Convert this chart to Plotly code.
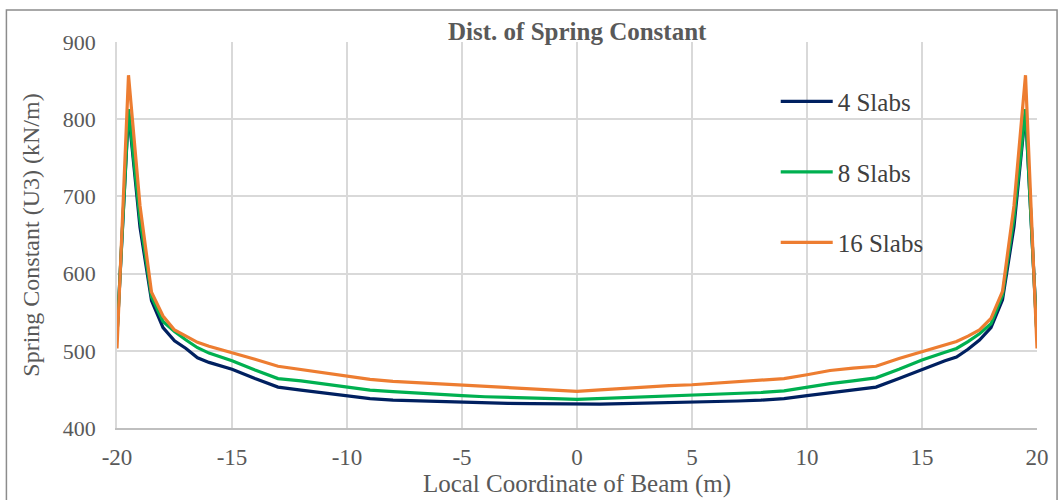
import plotly.graph_objects as go

x_coord = [-20, -19.5, -19, -18.5, -18, -17.5, -17, -16.5, -16,
           -15, -14, -13, -12, -11, -10, -9, -8, -7, -6, -5, -4, -3, -2, -1,
           0, 1, 2, 3, 4, 5, 6, 7, 8, 9, 10, 11, 12, 13, 14, 15,
           16, 16.5, 17, 17.5, 18, 18.5, 19, 19.5, 20]

slabs_4 = [520, 810, 660, 565, 530, 513, 503, 491, 485,
           476, 464, 453, 449, 445, 442, 438, 436, 435, 434, 433.5, 433, 432, 431.5, 431,
           431, 431, 431.5, 432, 433, 433.5, 434, 435, 436, 438, 442, 446, 450, 453, 464, 476,
           487, 492, 502, 514, 530, 566, 661, 810, 520]

slabs_8 = [520, 813, 670, 570, 538, 525, 514, 504, 497,
           487, 475, 464, 461, 457, 454, 449, 447, 445, 443.5, 442, 440.5, 440, 438.5, 438,
           437, 438, 439, 440.5, 441, 442, 444, 445, 446, 448, 453, 457.5, 461, 465, 476, 488,
           498, 503, 512, 522, 535, 572, 672, 813, 518]

slabs_16 = [503, 857, 688, 576, 545, 527, 519, 511, 506,
            498, 489, 480, 476, 472, 468, 463, 460.5, 459, 457.5, 455.5, 454.5, 453, 451.5, 449.5,
            447.5, 449.5, 451.5, 453.5, 455, 456, 458, 460, 461, 464, 469, 474.5, 477.5, 480, 490, 499,
            507, 512, 519, 527, 542, 577, 688, 857, 503]

series_names = ["4 Slabs", "8 Slabs", "16 Slabs"]
series_colors = ["#002060", "#00b050", "#ed7d31"]
x_ticks = [-20, -15, -10, -5, 0, 5, 10, 15, 20]
y_ticks = [400, 500, 600, 700, 800, 900]

FONT = "Liberation Serif, Times New Roman, serif"
GRAY = "#595959"

fig = go.Figure()
for name, ys, col in zip(series_names, [slabs_4, slabs_8, slabs_16], series_colors):
    fig.add_trace(go.Scatter(
        x=x_coord, y=ys, mode="lines", name=name, legendgroup=name,
        line=dict(color=col, width=3.2, shape="linear"),
    ))

fig.update_layout(
    width=1060, height=500,
    margin=dict(l=117, r=23, t=42, b=72),
    paper_bgcolor="white", plot_bgcolor="white",
    font=dict(family=FONT, size=22, color=GRAY),
    showlegend=True,
    legend=dict(
        x=0.716, y=0.905, xanchor="left", yanchor="top",
        bgcolor="rgba(0,0,0,0)", font=dict(family=FONT, size=25, color="#404040"),
        itemwidth=52, tracegroupgap=35,
    ),
    xaxis=dict(
        range=[-20, 20], tickvals=x_ticks, ticktext=[str(v) for v in x_ticks],
        showgrid=True, gridcolor="#d9d9d9", gridwidth=1.5, zeroline=False,
        showline=True, linecolor="#bfbfbf", linewidth=1.5, ticks="",
        tickfont=dict(family=FONT, size=23, color=GRAY), ticklabelstandoff=8,
        title=dict(text="Local Coordinate of Beam (m)", standoff=0,
                   font=dict(family=FONT, size=25, color=GRAY)),
    ),
    yaxis=dict(
        range=[400, 900], tickvals=y_ticks, ticktext=[str(v) for v in y_ticks],
        showgrid=True, gridcolor="#d9d9d9", gridwidth=1.5, zeroline=False,
        showline=True, linecolor="#d9d9d9", linewidth=1.5, ticks="",
        tickfont=dict(family=FONT, size=22, color=GRAY), ticklabelstandoff=15,
        title=dict(text="Spring Constant (U3) (kN/m)", standoff=16,
                   font=dict(family=FONT, size=24, color=GRAY)),
    ),
    annotations=[dict(
        text="<b>Dist. of Spring Constant</b>", xref="paper", yref="paper",
        x=0.5, y=1.026, xanchor="center", yanchor="middle", showarrow=False,
        font=dict(family=FONT, size=25, color=GRAY),
    )],
    shapes=[dict(
        type="rect", xref="paper", yref="paper",
        x0=-0.1202, x1=1.0218, y0=-0.3, y1=1.0829,
        line=dict(color="#8c8c8c", width=1.5), fillcolor="rgba(0,0,0,0)", layer="below",
    )],
)

fig.write_html("out.html")
